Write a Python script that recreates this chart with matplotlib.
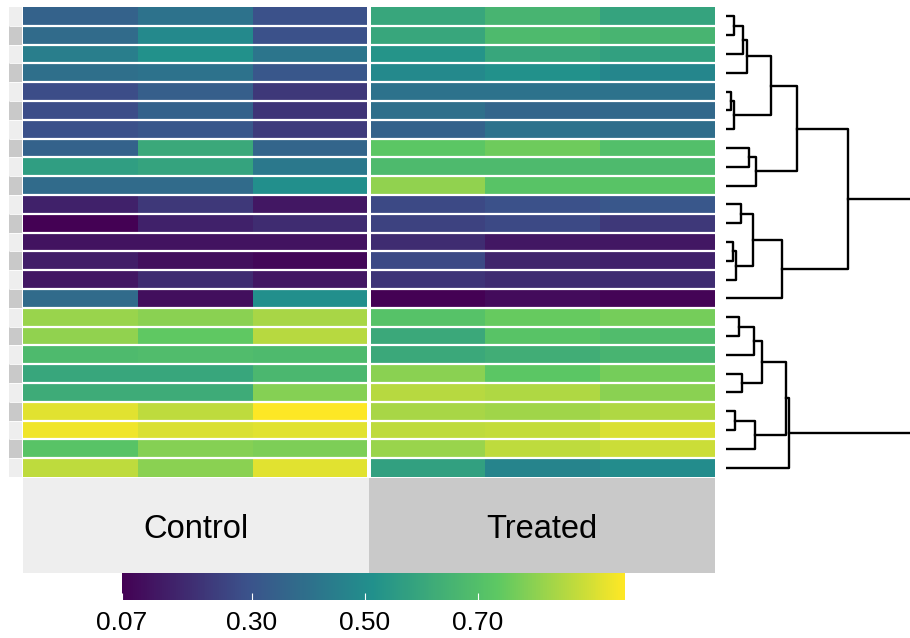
import numpy as np
import matplotlib
matplotlib.use("Agg")
import matplotlib.pyplot as plt
from matplotlib.colors import Normalize, ListedColormap, LinearSegmentedColormap
from matplotlib.cm import ScalarMappable

plt.rcParams['font.family'] = ['Liberation Sans', 'DejaVu Sans']

W, H = 910, 638

# expression values, one row per gene (3 replicates per group)
control = np.array([
    [0.35, 0.41, 0.29], [0.38, 0.49, 0.29], [0.45, 0.52, 0.42], [0.40, 0.41, 0.31],
    [0.28, 0.34, 0.22], [0.28, 0.35, 0.21], [0.29, 0.31, 0.23], [0.35, 0.61, 0.36],
    [0.57, 0.59, 0.43], [0.38, 0.38, 0.51], [0.16, 0.22, 0.13], [0.07, 0.16, 0.19],
    [0.12, 0.12, 0.12], [0.15, 0.11, 0.09], [0.13, 0.19, 0.13], [0.38, 0.11, 0.51],
    [0.82, 0.80, 0.84], [0.81, 0.74, 0.86], [0.68, 0.69, 0.68], [0.60, 0.60, 0.67],
    [0.62, 0.62, 0.79], [0.92, 0.87, 0.96], [0.94, 0.91, 0.92], [0.72, 0.79, 0.78],
    [0.87, 0.80, 0.92],
])
treated = np.array([
    [0.60, 0.66, 0.59], [0.60, 0.68, 0.66], [0.53, 0.60, 0.58], [0.49, 0.52, 0.48],
    [0.41, 0.41, 0.41], [0.40, 0.36, 0.37], [0.35, 0.41, 0.39], [0.73, 0.76, 0.70],
    [0.68, 0.68, 0.68], [0.81, 0.72, 0.72], [0.27, 0.29, 0.31], [0.25, 0.27, 0.22],
    [0.19, 0.13, 0.13], [0.27, 0.17, 0.16], [0.21, 0.19, 0.19], [0.07, 0.10, 0.08],
    [0.71, 0.75, 0.77], [0.61, 0.72, 0.69], [0.61, 0.63, 0.66], [0.80, 0.73, 0.77],
    [0.86, 0.85, 0.80], [0.84, 0.83, 0.85], [0.87, 0.88, 0.91], [0.82, 0.87, 0.89],
    [0.58, 0.47, 0.50],
])
row_annot = [0, 1, 0, 1, 0, 1, 0, 1, 0, 1, 0, 1, 0, 1, 0, 1, 0, 1, 0, 1, 0, 1, 0, 1, 0]
groups = ["Control", "Treated"]
annot_colors = ["#eeeeee", "#c9c9c9"]
cbar_ticks = [0.07, 0.30, 0.50, 0.70]
cbar_labels = ["0.07", "0.30", "0.50", "0.70"]
vmin, vmax = 0.07, 0.96
# viridis(5) anchors, blended linearly between them
ramp_colors = ['#440154', '#3b528b', '#21908c', '#5dc863', '#fde725']

# row dendrogram merges: (left, right, height), new nodes numbered from 25
merges = [
    (0, 1, 8.3), (25, 2, 17.6), (26, 3, 21.0), (4, 5, 5.0), (28, 6, 8.3),
    (27, 29, 45.3), (7, 8, 23.3), (31, 9, 30.3), (30, 32, 71.0),
    (10, 11, 15.3), (12, 13, 7.0), (35, 14, 10.3), (34, 36, 27.3),
    (37, 15, 56.0), (33, 38, 122.6),
    (16, 17, 13.6), (40, 18, 28.3), (19, 20, 16.6), (41, 42, 36.6),
    (21, 22, 9.3), (44, 23, 29.3), (43, 45, 60.3), (46, 24, 63.3),
    (39, 47, 240.0),
]


def px_box(x0, y0, x1, y1):
    return [x0 / W, 1 - y1 / H, (x1 - x0) / W, (y1 - y0) / H]


n = len(control)
gap = 0.03
cmap = LinearSegmentedColormap.from_list('vir5', ramp_colors)
norm = Normalize(vmin=vmin, vmax=vmax)

fig = plt.figure(figsize=(W / 100, H / 100), dpi=100)

# heatmap
ax = fig.add_axes(px_box(23, 7, 715, 477))
yedges = np.arange(n + 1) - 0.5
ax.pcolormesh(np.arange(4), yedges, control, cmap=cmap, norm=norm)
ax.pcolormesh(np.arange(4) + 3 + gap, yedges, treated, cmap=cmap, norm=norm)
ax.hlines(np.arange(n - 1) + 0.5, 0, 6 + gap, color='white', lw=1.6)
ax.set_xlim(0, 6 + gap)
ax.set_ylim(n - 0.5, -0.5)
ax.axis('off')

# row annotation strip
ax_ra = fig.add_axes(px_box(9, 7, 22, 477))
ax_ra.pcolormesh([0, 1], yedges, np.array(row_annot)[:, None],
                 cmap=ListedColormap(annot_colors), vmin=0, vmax=1)
ax_ra.hlines(np.arange(n - 1) + 0.5, 0, 1, color='white', lw=0.6)
ax_ra.set_xlim(0, 1)
ax_ra.set_ylim(n - 0.5, -0.5)
ax_ra.axis('off')

# column annotation
ax_ca = fig.add_axes(px_box(23, 478, 715, 572.5))
half = 3 + gap / 2
ax_ca.bar([0, half], 1, width=[half, half], align='edge', color=annot_colors)
for i, g in enumerate(groups):
    ax_ca.text(half * i + half / 2, 0.455, g, ha='center', va='center', fontsize=23.5)
ax_ca.set_xlim(0, 6 + gap)
ax_ca.set_ylim(0, 1)
ax_ca.axis('off')

# dendrogram
ax_d = fig.add_axes(px_box(725.7, 7, 910, 477))
pos = {i: float(i) for i in range(n)}
hgt = {i: 0.0 for i in range(n)}
for k, (a, b, h) in enumerate(merges):
    ax_d.plot([hgt[a], h, h, hgt[b]], [pos[a], pos[a], pos[b], pos[b]],
              color='black', lw=1.7)
    pos[n + k] = (pos[a] + pos[b]) / 2
    hgt[n + k] = h
ax_d.set_xlim(0, 184.3)
ax_d.set_ylim(n - 0.5, -0.5)
ax_d.axis('off')

# colour bar
cax = fig.add_axes(px_box(122, 572.5, 625, 600))
cb = fig.colorbar(ScalarMappable(norm=norm, cmap=cmap), cax=cax,
                  orientation='horizontal', ticks=cbar_ticks)
cb.outline.set_visible(False)
cb.solids.set_edgecolor('face')
cb.ax.set_xticklabels(cbar_labels)
cax.tick_params(direction='in', color='white', length=5, width=0.8,
                labelsize=19, pad=8)

fig.savefig('out.png', dpi=100)
